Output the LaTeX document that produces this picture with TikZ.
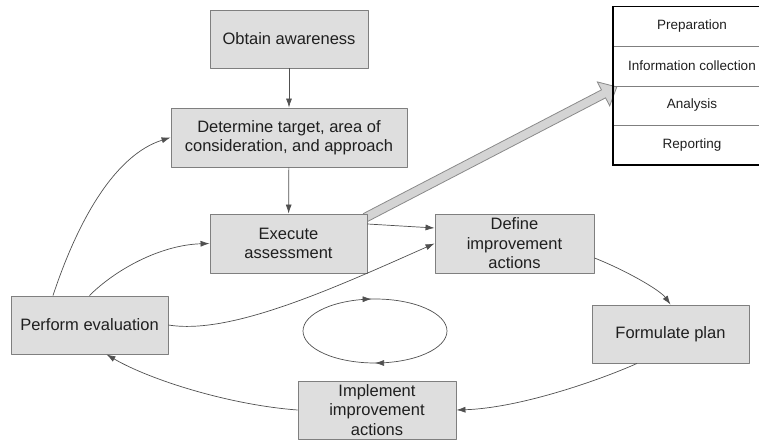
\documentclass[tikz,border=0pt]{standalone}
\usepackage{fontspec}
\setmainfont{Liberation Sans}
\usepackage{tikz}
\usetikzlibrary{calc,arrows.meta,decorations.markings,backgrounds}

\definecolor{boxfill}{HTML}{DEDEDE}
\definecolor{boxline}{HTML}{7F7F7F}
\definecolor{wirecol}{HTML}{505050}
\definecolor{bigfill}{HTML}{D4D4D4}
\definecolor{bigline}{HTML}{8A8A8A}

\tikzset{
  stage/.style={draw=boxline,fill=boxfill,line width=0.9bp,align=center,inner sep=2bp,
    font=\fontsize{16.5bp}{19.5bp}\selectfont,text=black!88},
  phase/.style={minimum width=158bp,minimum height=39.5bp,
    inner sep=0pt,font=\fontsize{13.5bp}{16bp}\selectfont,text=black!88},
  wire/.style={draw=wirecol,line width=0.7bp,->},
}

\begin{document}
\begin{tikzpicture}[>={Latex[length=9bp,width=6bp]},line join=bevel]
\useasboundingbox (0bp,0bp) rectangle (759bp,440bp);
%%
\node (0) at (289bp,401bp) [stage,minimum width=158bp,minimum height=58bp] {Obtain awareness};
  \node (1) at (289bp,302.5bp) [stage,minimum width=236bp,minimum height=59bp] {Determine target, area of\\consideration, and approach};
  \node (2) at (288.5bp,196.5bp) [stage,minimum width=157bp,minimum height=59bp] {Execute\\assessment};
  \node (3) at (514.5bp,196.5bp) [stage,minimum width=159bp,minimum height=59bp] {Define\\improvement\\actions};
  \node (4) at (89.5bp,115bp) [stage,minimum width=157bp,minimum height=58bp] {Perform evaluation};
  \node (5) at (670.5bp,106bp) [stage,minimum width=157bp,minimum height=58bp] {Formulate plan};
  \node (6) at (377bp,30bp) [stage,minimum width=158bp,minimum height=58bp] {Implement\\improvement\\actions};
%% assessment phases, cut off at the right edge
  \node (7) at (692bp,413.5bp) [phase] {Preparation};
  \node (8) at (692bp,374bp) [phase] {Information collection};
  \node (9) at (692bp,334.5bp) [phase] {Analysis};
  \node (10) at (692bp,295bp) [phase] {Reporting};
  \coordinate (rim) at (759bp,0bp);
  \draw [draw=boxline,line width=0.8bp] (7.south west) -- (7.south west -| rim)
    (8.south west) -- (8.south west -| rim) (9.south west) -- (9.south west -| rim);
  \draw [line width=1.8bp,line join=miter] (7.north west -| rim) -- (7.north west)
    -- (10.south west) -- (10.south west -| rim);
%% wide arrow into the phases
  \begin{scope}[on background layer]
  \coordinate (bt) at ([xshift=-2bp,yshift=-4bp]2.north east);
  \coordinate (bh) at ([xshift=4bp,yshift=-1bp]8.south west);
  \coordinate (bb) at ($(bh)!15bp!(bt)$);
  \draw [fill=bigfill,draw=bigline,line width=0.8bp,line join=miter]
    ($(bt)!4.5bp!90:(bh)$) -- ($(bb)!4.5bp!-90:(bt)$) -- ($(bb)!13.5bp!-90:(bt)$)
    -- (bh) -- ($(bb)!13.5bp!90:(bt)$) -- ($(bb)!4.5bp!90:(bt)$)
    -- ($(bt)!4.5bp!-90:(bh)$) -- cycle;
  \end{scope}
%% flow
  \draw [wire] (0) -- (1);
  \draw [wire] (1) -- (2);
  \draw [wire] ([yshift=19.5bp]2.east) -- ([yshift=15.5bp]3.west);
  \draw [wire] ([yshift=-14.5bp]3.east) ..controls (625bp,170bp) and (660bp,150bp) .. (5.north);
  \draw [wire] ([xshift=-33.5bp]5.south) ..controls (600bp,60bp) and (520bp,32bp) .. (6.east);
  \draw [wire] (6.west) ..controls (230bp,35bp) and (150bp,60bp) .. ([xshift=17bp]4.south);
  \draw [wire] ([xshift=-36.5bp]4.north) ..controls (78bp,220bp) and (115bp,285bp) .. (1.west);
  \draw [wire] (4.north) ..controls (115bp,170bp) and (160bp,195bp) .. (2.west);
  \draw [wire] (4.east) ..controls (230bp,105bp) and (330bp,150bp) .. (3.west);
%% cycle
  \draw [wire,-,postaction={decorate},decoration={markings,
    mark=at position 0.26 with {\arrowreversed{Latex[length=9bp,width=6bp]}},
    mark=at position 0.75 with {\arrowreversed{Latex[length=9bp,width=6bp]}}}]
    (375bp,109bp) ellipse [x radius=72bp,y radius=32bp];
%
\end{tikzpicture}
\end{document}
